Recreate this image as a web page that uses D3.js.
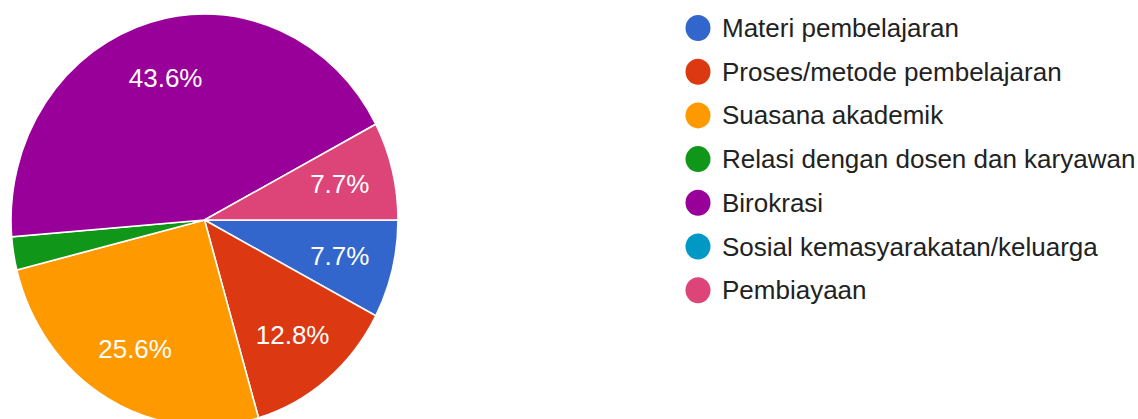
<!DOCTYPE html>
<html>
<head>
<meta charset="utf-8">
<script src="https://cdn.jsdelivr.net/npm/d3@7"></script>
<style>
  html, body { margin: 0; padding: 0; background: #ffffff; }
  svg { display: block; }
</style>
</head>
<body>
<svg id="chart" width="1138" height="419"></svg>
<script>
// Response categories, in the order they appear in the legend
const categories = [
  "Materi pembelajaran",
  "Proses/metode pembelajaran",
  "Suasana akademik",
  "Relasi dengan dosen dan karyawan",
  "Birokrasi",
  "Sosial kemasyarakatan/keluarga",
  "Pembiayaan"
];
// Share of responses per category (percent)
const shares = [7.7, 12.8, 25.6, 2.6, 43.6, 0, 7.7];
// Slices large enough to carry a printed percentage
const labelMin = 5;
const palette = ["#3366cc", "#dc3912", "#ff9900", "#109618", "#990099", "#0099c6", "#dd4477"];

const svg = d3.select("#chart");
const cx = 204.5, cy = 220;
const rx = 193.5, ry = 206;      // pie is drawn slightly taller than wide
const sy = ry / rx;

const data = categories.map((c, i) => ({ name: c, value: shares[i], color: palette[i] }));

// Slices run clockwise starting at three o'clock
const pie = d3.pie()
  .value(d => d.value)
  .sort(null)
  .startAngle(Math.PI / 2)
  .endAngle(Math.PI / 2 + 2 * Math.PI);

const arcs = pie(data);
const arc = d3.arc().innerRadius(0).outerRadius(rx);
const labelArc = d3.arc().innerRadius(rx * 0.72).outerRadius(rx * 0.72);

const pieG = svg.append("g")
  .attr("transform", `translate(${cx},${cy}) scale(1,${sy})`);

pieG.selectAll("path")
  .data(arcs.filter(a => a.data.value > 0))
  .join("path")
  .attr("d", arc)
  .attr("fill", d => d.data.color)
  .attr("stroke", "#ffffff")
  .attr("stroke-width", 1.6)
  .attr("vector-effect", "non-scaling-stroke");

// Percentage labels inside the larger slices
svg.append("g")
  .selectAll("text")
  .data(arcs.filter(a => a.data.value >= labelMin))
  .join("text")
  .attr("x", d => cx + labelArc.centroid(d)[0])
  .attr("y", d => cy + labelArc.centroid(d)[1] * sy)
  .attr("text-anchor", "middle")
  .attr("dominant-baseline", "central")
  .attr("font-family", "'Liberation Sans', Arial, sans-serif")
  .attr("font-size", 26)
  .attr("fill", "#ffffff")
  .text(d => d.data.value.toFixed(1) + "%");

// Legend
const legendX = 698, legendY = 28, rowGap = 43.7;
const legend = svg.append("g");
const rows = legend.selectAll("g")
  .data(data)
  .join("g")
  .attr("transform", (d, i) => `translate(${legendX},${legendY + i * rowGap})`);

rows.append("ellipse")
  .attr("rx", 12.5)
  .attr("ry", 13)
  .attr("fill", d => d.color);

rows.append("text")
  .attr("x", 24)
  .attr("y", 0)
  .attr("dominant-baseline", "central")
  .attr("font-family", "'Liberation Sans', Arial, sans-serif")
  .attr("font-size", 26)
  .attr("fill", "#222222")
  .text(d => d.name);
</script>
</body>
</html>
